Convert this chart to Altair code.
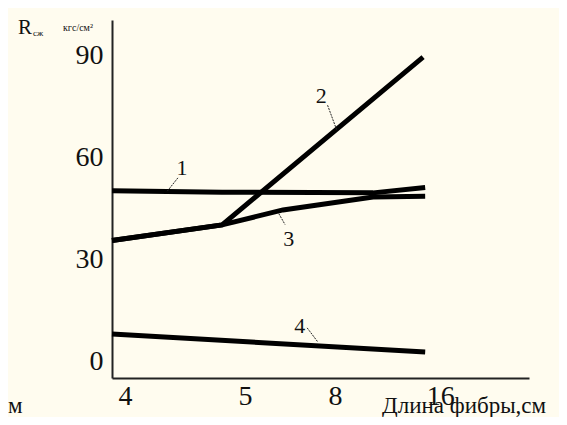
import altair as alt
import pandas as pd

# ---- data (x in axis-position units 0..100, y in kgf/cm2) ----
s1_x = [0, 26.4, 62.6, 75.1]
s1_y = [50.2, 49.8, 49.6, 51.2]
s2_x = [0, 26.4, 74.6]
s2_y = [35.6, 40.2, 89.4]
s3_x = [0, 26.4, 41.0, 62.6, 75.1]
s3_y = [35.6, 40.2, 44.6, 48.4, 48.6]
s4_x = [0, 75.1]
s4_y = [8.2, 2.9]

x_tick_pos = [3.1, 31.9, 53.5, 78.7]
x_tick_lab = ["4", "5", "8", "16"]
y_ticks = [0, 30, 60, 90]

# curve labels and leader lines
lab_text = ["1", "2", "3", "4"]
lab_x = [16.8, 50.2, 42.4, 45.0]
lab_y = [57.0, 78.0, 36.0, 10.5]
lead_x1 = [15.8, 51.7, 40.0, 46.8]
lead_y1 = [54.0, 75.3, 43.5, 10.0]
lead_x2 = [13.2, 53.9, 41.5, 49.4]
lead_y2 = [50.0, 68.0, 40.3, 5.8]

# free annotations: text, pixel x/y relative to plot area, font size
ann_text = ["R", "сж", "кгс/см²", "Длина фибры,см", "м"]
ann_px = [-94, -79, -49, 270, -104]
ann_py = [14, 16, 11, 393, 393]
ann_size = [21, 9, 10, 23, 23]

BG = "#fffcef"
INK = "#111111"
FONT = "Liberation Serif"

rows = []
for name, xs, ys in [("1", s1_x, s1_y), ("2", s2_x, s2_y), ("3", s3_x, s3_y), ("4", s4_x, s4_y)]:
    for xv, yv in zip(xs, ys):
        rows.append({"series": name, "x": xv, "y": yv})
df = pd.DataFrame(rows)

labels_df = pd.DataFrame({"t": lab_text, "x": lab_x, "y": lab_y})
leads_df = pd.DataFrame({"x": lead_x1, "y": lead_y1, "x2": lead_x2, "y2": lead_y2})

label_expr = " : ".join(
    f"datum.value < {((x_tick_pos[i] + x_tick_pos[i + 1]) / 2):.2f} ? '{x_tick_lab[i]}'"
    for i in range(len(x_tick_pos) - 1)
) + f" : '{x_tick_lab[-1]}'"

xscale = alt.Scale(domain=[0, 100], nice=False, zero=False)
yscale = alt.Scale(domain=[-4.7, 100.3], nice=False, zero=False)

x_enc = alt.X(
    "x:Q", scale=xscale,
    axis=alt.Axis(values=x_tick_pos, labelExpr=label_expr, grid=False, ticks=False,
                  domainColor="#222", domainWidth=2, labelFont=FONT, labelFontSize=28,
                  labelColor=INK, labelPadding=4, title=None, labelFlush=False),
)
y_enc = alt.Y(
    "y:Q", scale=yscale,
    axis=alt.Axis(values=y_ticks, grid=False, ticks=False, domainColor="#222", domainWidth=2,
                  labelFont=FONT, labelFontSize=28, labelColor=INK, labelPadding=9,
                  title=None, labelBaseline="middle"),
)

lines = alt.Chart(df).mark_line(color="black", strokeWidth=5, clip=False).encode(
    x=x_enc, y=y_enc, detail="series:N"
)

leads = alt.Chart(leads_df).mark_rule(color="#222", strokeWidth=1, strokeDash=[2, 1]).encode(
    x="x:Q", y="y:Q", x2="x2:Q", y2="y2:Q"
)

curve_labels = alt.Chart(labels_df).mark_text(
    font=FONT, fontSize=22, color=INK, align="center", baseline="middle"
).encode(x="x:Q", y="y:Q", text="t:N")

ann_layers = []
for t, px, py, sz in zip(ann_text, ann_px, ann_py, ann_size):
    ann_layers.append(
        alt.Chart(pd.DataFrame({"t": [t]})).mark_text(
            font=FONT, color=INK, align="left", baseline="alphabetic", fontSize=sz
        ).encode(x=alt.value(px), y=alt.value(py), text="t:N")
    )

chart = alt.layer(lines, leads, curve_labels, *ann_layers).properties(
    width=417, height=358,
    background=BG,
    padding={"left": 104, "top": 12, "right": 30, "bottom": 39},
    autosize=alt.AutoSizeParams(type="none"),
).configure_view(stroke=None)

chart.save("out.html", embed_options={"renderer": "svg", "actions": False})
